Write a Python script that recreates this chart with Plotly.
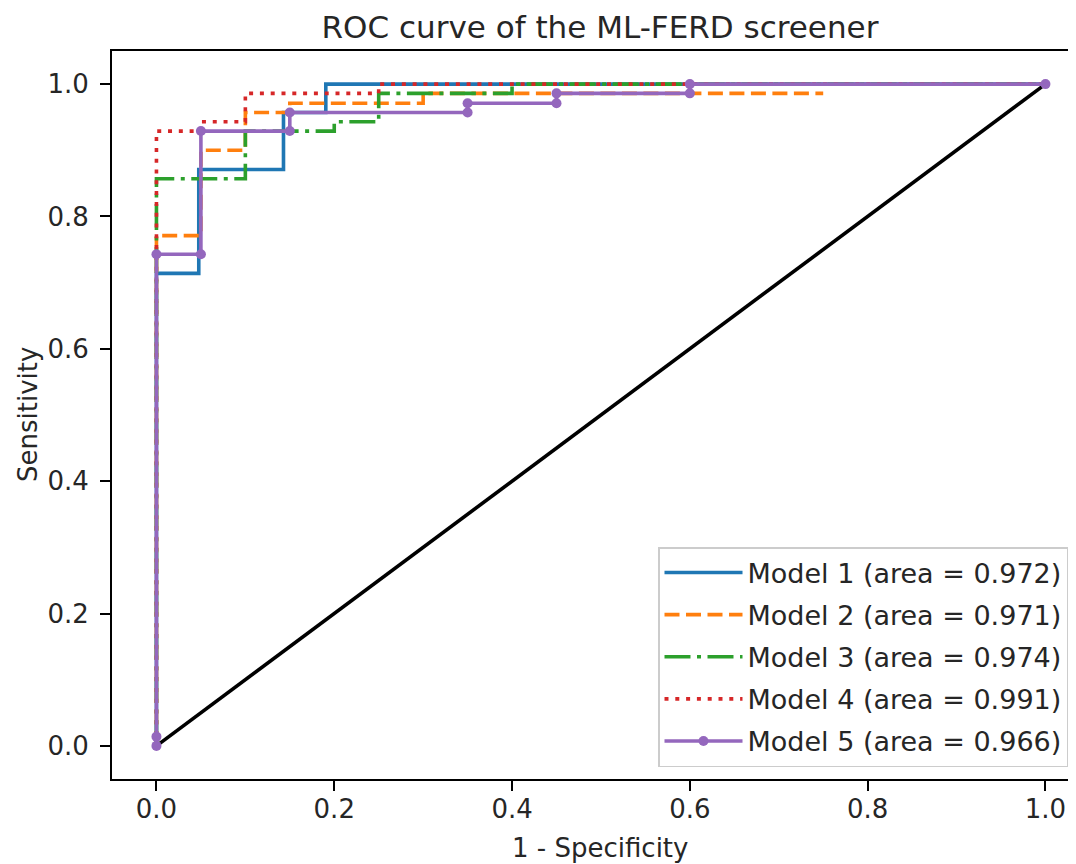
import plotly.graph_objects as go

# ---- data ----
m1_fpr = [0.0, 0.0, 0.0476, 0.0476, 0.1429, 0.1429, 0.1905, 0.1905, 1.0]
m1_tpr = [0.0, 0.714, 0.714, 0.871, 0.871, 0.957, 0.957, 1.0, 1.0]

m2_fpr = [0.0, 0.0, 0.05, 0.05, 0.10, 0.10, 0.15, 0.15, 0.30, 0.30, 0.75]
m2_tpr = [0.0, 0.771, 0.771, 0.900, 0.900, 0.957, 0.957, 0.971, 0.971, 0.986, 0.986]

m3_fpr = [0.0, 0.0, 0.10, 0.10, 0.20, 0.20, 0.25, 0.25, 0.40, 0.40, 1.0]
m3_tpr = [0.0, 0.857, 0.857, 0.929, 0.929, 0.943, 0.943, 0.986, 0.986, 1.0, 1.0]

m4_fpr = [0.0, 0.0, 0.05, 0.05, 0.10, 0.10, 0.25, 0.25, 1.0]
m4_tpr = [0.0, 0.929, 0.929, 0.943, 0.943, 0.986, 0.986, 1.0, 1.0]

m5_fpr = [0.0, 0.0, 0.0, 0.05, 0.05, 0.15, 0.15, 0.35, 0.35, 0.45, 0.45, 0.60, 0.60, 1.0]
m5_tpr = [0.0, 0.014, 0.743, 0.743, 0.929, 0.929, 0.957, 0.957, 0.971, 0.971, 0.986, 0.986, 1.0, 1.0]

diag = [0.0, 1.0]

model_names = ["Model 1 (area = 0.972)", "Model 2 (area = 0.971)", "Model 3 (area = 0.974)",
               "Model 4 (area = 0.991)", "Model 5 (area = 0.966)"]
tick_vals = [0.0, 0.2, 0.4, 0.6, 0.8, 1.0]
tick_text = ["0.0", "0.2", "0.4", "0.6", "0.8", "1.0"]

# ---- styles ----
colors = ["#1f77b4", "#ff7f0e", "#2ca02c", "#d62728", "#9467bd"]
dashes = ["solid", "15px,6.5px", "26px,6.5px,4px,6.5px", "4px,6.8px", "solid"]
LW = 3.6
FONT = "DejaVu Sans"
TXT = "#262626"

fig = go.Figure()
fig.add_trace(go.Scatter(x=diag, y=diag, mode="lines", line=dict(color="black", width=LW),
                         showlegend=False, hoverinfo="skip"))

series = [(m1_fpr, m1_tpr), (m2_fpr, m2_tpr), (m3_fpr, m3_tpr), (m4_fpr, m4_tpr), (m5_fpr, m5_tpr)]
for i, (fx, ty) in enumerate(series):
    if i == 4:
        fig.add_trace(go.Scatter(x=fx, y=ty, mode="lines+markers", name=model_names[i],
                                 legendgroup=f"g{i}",
                                 line=dict(color=colors[i], width=LW),
                                 marker=dict(color=colors[i], size=10)))
    else:
        fig.add_trace(go.Scatter(x=fx, y=ty, mode="lines", name=model_names[i],
                                 legendgroup=f"g{i}",
                                 line=dict(color=colors[i], width=LW, dash=dashes[i])))

# page body has an 8px margin; work in figure coordinates = page - 8
OFF = 8
W, H = 1076 - OFF, 864 - OFF
L, T = 112 - OFF, 51 - OFF
bottom = 779 - OFF
B = H - bottom
plot_w = W - L
plot_h = bottom - T
x0 = -0.05
x1 = x0 + plot_w / 889.0

axis_common = dict(
    showgrid=False, zeroline=False, showline=True, linecolor="black", linewidth=2,
    ticks="outside", ticklen=10, tickwidth=2, tickcolor="black",
    tickfont=dict(family=FONT, size=26, color=TXT),
    tickvals=tick_vals, ticktext=tick_text, automargin=False,
)

fig.update_layout(
    width=W, height=H,
    margin=dict(l=L, r=0, t=T, b=B, pad=0),
    paper_bgcolor="white", plot_bgcolor="white",
    font=dict(family=FONT, color=TXT),
    title=dict(text="ROC curve of the ML-FERD screener", x=(600 - OFF) / W, xref="container",
               xanchor="center", y=1 - (27 - OFF) / H, yanchor="middle", yref="container",
               font=dict(family=FONT, size=31, color=TXT)),
    xaxis=dict(range=[x0, x1], mirror=True, ticklabelstandoff=-4, **axis_common),
    yaxis=dict(range=[-0.05, 1.05], mirror=False, ticklabelstandoff=6, **axis_common),
    legend=dict(x=(1068 - 112) / plot_w, xanchor="right", y=(779 - 767) / plot_h, yanchor="bottom",
                bgcolor="rgba(255,255,255,0.8)", bordercolor="#cccccc", borderwidth=1.5,
                itemwidth=78, tracegroupgap=4,
                font=dict(family=FONT, size=27, color=TXT)),
    annotations=[
        dict(text="1 - Specificity", xref="paper", yref="paper", x=(600 - 112) / plot_w,
             y=-(848 - 779) / plot_h, xanchor="center", yanchor="middle", showarrow=False,
             font=dict(family=FONT, size=26, color=TXT)),
        dict(text="Sensitivity", xref="paper", yref="paper", x=-(112 - 28) / plot_w,
             y=0.5, xanchor="center", yanchor="middle", textangle=-90, showarrow=False,
             font=dict(family=FONT, size=26, color=TXT)),
    ],
)

fig.write_html("out.html")
